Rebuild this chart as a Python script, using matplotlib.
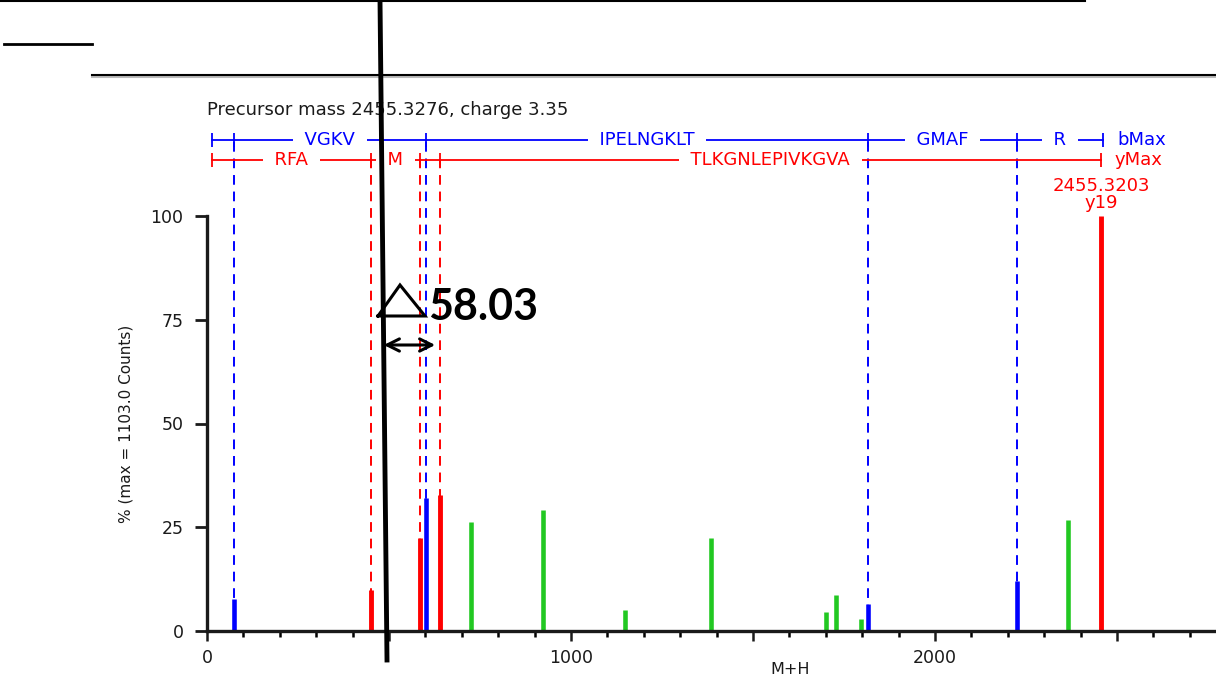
import matplotlib.pyplot as plt
from matplotlib.ticker import MultipleLocator, FixedLocator, FuncFormatter

# peaks (M+H, % of max)
b_mz = [74, 602, 1816, 2225]
b_int = [7.7, 32, 6.5, 12]
y_mz = [450, 585, 640, 2456]
y_int = [10, 22.4, 32.8, 100]
other_mz = [725, 923, 1148, 1385, 1700, 1728, 1797, 2365]
other_int = [26.3, 29.2, 5, 22.4, 4.6, 8.7, 2.9, 26.7]

# sequence ladders
b_start, b_end = 14, 2462
y_start = 14
b_labels = ['', 'VGKV', 'IPELNGKLT', 'GMAF', 'R']
y_labels = ['RFA', 'M', '', 'TLKGNLEPIVKGVA']

precursor = 'Precursor mass 2455.3276, charge 3.35'
max_label = '2455.3203\ny19'
delta = '58.03'

BLUE = '#0000ff'
RED = '#ff0000'
GREEN = '#22c822'

plt.rcParams['font.family'] = ['DejaVu Sans']
fig = plt.figure(figsize=(12.16, 6.88), dpi=100)
ax = fig.add_axes([207/1216, 57/688, 1009/1216, 415/688])
ax.set_xlim(0, 2772)
ax.set_ylim(0, 100)

for s in ['top', 'right']:
    ax.spines[s].set_visible(False)
for s in ['left', 'bottom']:
    ax.spines[s].set_linewidth(2.4)
    ax.spines[s].set_color('#1a1a1a')

ax.yaxis.set_major_locator(FixedLocator([0, 25, 50, 75, 100]))
ax.xaxis.set_major_locator(MultipleLocator(500))
ax.xaxis.set_minor_locator(MultipleLocator(100))
ax.xaxis.set_major_formatter(FuncFormatter(lambda v, p: '%d' % v if v % 1000 == 0 else ''))
ax.tick_params(axis='y', length=9, width=2, pad=8, labelsize=12.5, colors='#1a1a1a')
ax.tick_params(axis='x', which='major', length=7, width=1.8, pad=6, labelsize=12.5, colors='#1a1a1a')
ax.tick_params(axis='x', which='minor', length=4.5, width=1.8)

ax.set_ylabel('% (max = 1103.0 Counts)', fontsize=11, labelpad=12, color='#1a1a1a')
ax.set_xlabel('M+H', fontsize=11.5, color='#1a1a1a')
ax.xaxis.set_label_coords(0.578, -0.075)

yb_blue = 118.3
yb_red = 113.5

# dashed guides from ladders down to the ion peaks
ax.vlines(b_mz, 0, yb_blue, colors=BLUE, linestyles=(0, (5, 3.5)), lw=1.4, clip_on=False, zorder=1)
ax.vlines(y_mz[:-1], 0, yb_red, colors=RED, linestyles=(0, (5, 3.5)), lw=1.4, clip_on=False, zorder=1)

# peaks
ax.vlines(other_mz, 0, other_int, colors=GREEN, lw=3.3, zorder=2)
ax.vlines(b_mz, 0, b_int, colors=BLUE, lw=3.3, zorder=2)
ax.vlines(y_mz, 0, y_int, colors=RED, lw=3.5, zorder=2)


def ladder(cuts, labels, yb, color, end_label):
    for x0, x1, lab in zip(cuts[:-1], cuts[1:], labels):
        ax.plot([x0, x1], [yb, yb], color=color, lw=1.3, clip_on=False, zorder=2)
        if lab:
            ax.text((x0 + x1) / 2, yb, '  ' + lab + '  ', ha='center', va='center', color=color,
                    fontsize=13, clip_on=False, zorder=3,
                    bbox=dict(fc='white', ec='none', pad=0))
    ax.vlines(cuts, yb - 1.7, yb + 1.7, colors=color, lw=1.3, clip_on=False, zorder=2)
    ax.text(cuts[-1] + 38, yb, end_label, ha='left', va='center', color=color, fontsize=13, clip_on=False)


ladder([b_start] + b_mz + [b_end], b_labels, yb_blue, BLUE, 'bMax')
ladder([y_start] + y_mz, y_labels, yb_red, RED, 'yMax')

ax.text(0, 125.5, precursor, ha='left', va='center', fontsize=13, color='#1a1a1a', clip_on=False)
ax.text(y_mz[-1], 101, max_label, ha='center', va='bottom', color=RED, fontsize=13,
        linespacing=0.95, clip_on=False)

# hand-drawn overlay (pixel coordinates)
ov = fig.add_axes([0, 0, 1, 1], zorder=5)
ov.set_xlim(0, 1216)
ov.set_ylim(688, 0)
ov.axis('off')
ov.plot([0, 1085], [1, 1], color='k', lw=1.5)
ov.plot([4, 92], [44, 44], color='k', lw=2)
ov.plot([92, 1216], [77, 77], color='#bbbbbb', lw=1.5)
ov.plot([92, 1216], [75, 75], color='k', lw=1.5)
ov.plot([380, 387], [0, 660], color='k', lw=3.5)
ov.plot([378, 400, 425, 378], [316, 285, 316, 316], color='k', lw=2.2, solid_joinstyle='miter')
ov.annotate('', xy=(438, 345), xytext=(381, 345),
            arrowprops=dict(arrowstyle='<->', lw=2.2, color='k', mutation_scale=22))
ov.text(428, 307, delta, fontsize=31, fontweight='bold', family=['Lato', 'DejaVu Sans'],
        va='center', ha='left')

fig.savefig('out.png', dpi=100)
